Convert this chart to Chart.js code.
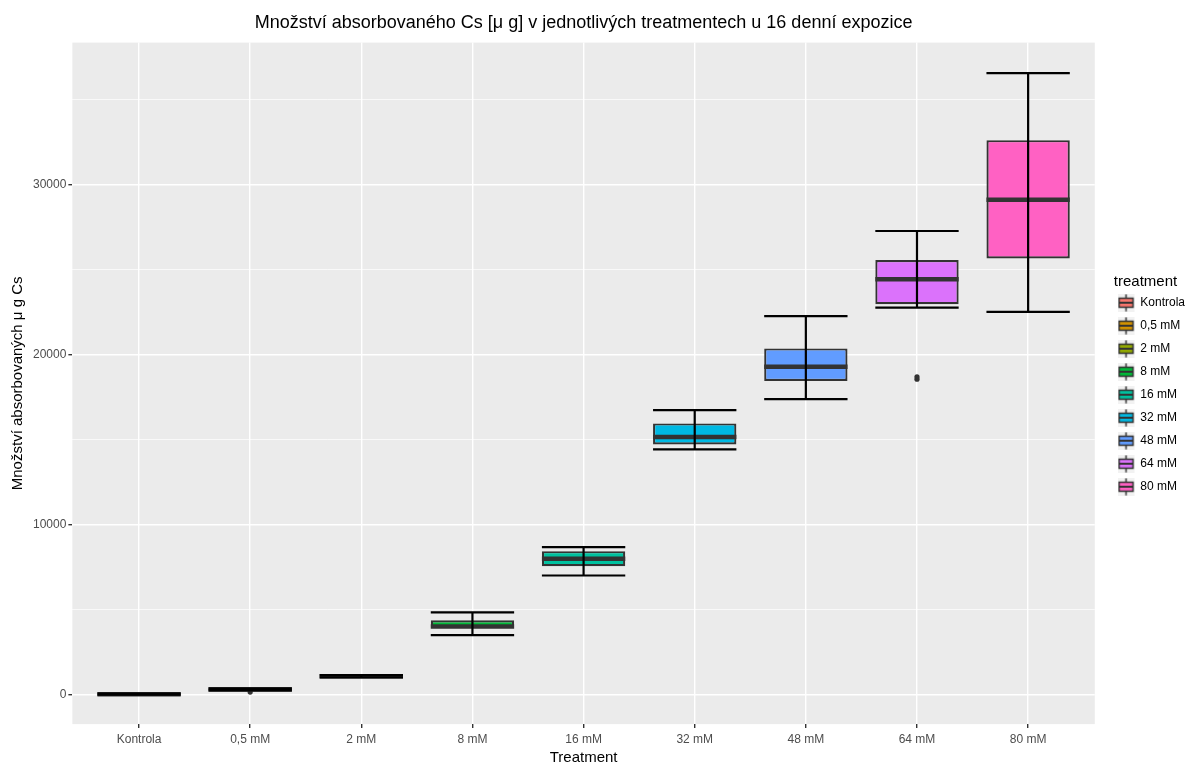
<!DOCTYPE html>
<html>
<head>
<meta charset="utf-8">
<script src="https://cdn.jsdelivr.net/npm/chart.js@4"></script>
<style>
  body { margin: 0; background: #fff; }
  #wrap { width: 1191px; height: 763px; }
</style>
</head>
<body>
<div id="wrap"><canvas id="myChart"></canvas></div>
<script>
const treatments = ['Kontrola', '0,5 mM', '2 mM', '8 mM', '16 mM', '32 mM', '48 mM', '64 mM', '80 mM'];
const whiskerLow  = [0,  240, 1010, 3500, 7000, 14410, 17370, 22740, 22490];
const boxLow      = [10, 270, 1040, 3950, 7550, 14700, 18430, 22940, 25630];
const medians     = [20, 300, 1080, 4000, 7980, 15140, 19270, 24410, 29080];
const boxHigh     = [40, 330, 1120, 4370, 8430, 15940, 20350, 25545, 32590];
const whiskerHigh = [60, 360, 1150, 4835, 8670, 16720, 22250, 27250, 36530];
// outliers: category number (1-based) and value
const outlierGroup  = [2, 8, 8];
const outlierValues = [150, 18540, 18680];
const yTicks = [0, 5000, 10000, 15000, 20000, 25000, 30000, 35000];
const colours = ['#F8766D', '#D39200', '#93AA00', '#00BA38', '#00C19F', '#00B9E3', '#619CFF', '#DB72FB', '#FF61C3'];

Chart.defaults.font.family = "'Liberation Sans', Arial, sans-serif";

// little boxplot glyphs for the legend (icon on the left of a wider canvas)
function keyIcon(col) {
  const c = document.createElement('canvas');
  c.width = 24; c.height = 18;
  const g = c.getContext('2d');
  g.fillStyle = '#F2F2F2';
  g.fillRect(0, 0, 17, 18);
  g.strokeStyle = '#333333';
  g.lineWidth = 1.5;
  g.beginPath();
  g.moveTo(8.5, 0.5); g.lineTo(8.5, 4.5);
  g.moveTo(8.5, 13.5); g.lineTo(8.5, 17.5);
  g.stroke();
  g.fillStyle = col;
  g.fillRect(1.5, 4.5, 14, 9);
  g.strokeRect(1.5, 4.5, 14, 9);
  g.lineWidth = 2;
  g.beginPath();
  g.moveTo(1.5, 9); g.lineTo(15.5, 9);
  g.stroke();
  return c;
}
const icons = colours.map(keyIcon);

const boxParts = {
  id: 'boxParts',
  beforeDraw(chart) {
    const a = chart.chartArea, ctx = chart.ctx;
    ctx.save();
    ctx.fillStyle = '#EBEBEB';
    ctx.fillRect(a.left, a.top, a.right - a.left, a.bottom - a.top);
    ctx.restore();
  },
  afterDatasetsDraw(chart) {
    const ctx = chart.ctx, xs = chart.scales.x, ys = chart.scales.y;
    const bars = chart.getDatasetMeta(0).data;
    ctx.save();
    treatments.forEach((t, i) => {
      const cx = xs.getPixelForValue(i + 1);
      const half = bars[i].width / 2;
      // median
      ctx.strokeStyle = '#333333';
      ctx.lineWidth = 4.5;
      ctx.beginPath();
      ctx.moveTo(cx - half, ys.getPixelForValue(medians[i]));
      ctx.lineTo(cx + half, ys.getPixelForValue(medians[i]));
      ctx.stroke();
      // error bar whiskers
      ctx.strokeStyle = '#000000';
      ctx.lineWidth = 2.2;
      const lo = ys.getPixelForValue(whiskerLow[i]);
      const hi = ys.getPixelForValue(whiskerHigh[i]);
      ctx.beginPath();
      ctx.moveTo(cx - half, lo); ctx.lineTo(cx + half, lo);
      ctx.moveTo(cx - half, hi); ctx.lineTo(cx + half, hi);
      ctx.moveTo(cx, lo); ctx.lineTo(cx, hi);
      ctx.stroke();
    });
    ctx.restore();
  }
};

const ctx = document.getElementById('myChart');

new Chart(ctx, {
  type: 'bar',
  data: {
    datasets: [{
      label: 'treatment',
      data: treatments.map((t, i) => ({ x: i + 1, y: [boxLow[i], boxHigh[i]] })),
      backgroundColor: colours,
      borderColor: '#333333',
      borderWidth: 2.2,
      borderSkipped: false,
      barPercentage: 0.75,
      categoryPercentage: 1
    }, {
      type: 'scatter',
      label: 'outliers',
      data: outlierGroup.map((g, k) => ({ x: g, y: outlierValues[k] })),
      pointRadius: 2.6,
      pointBackgroundColor: '#333333',
      pointBorderWidth: 0
    }]
  },
  options: {
    responsive: true,
    maintainAspectRatio: false,
    animation: false,
    layout: { padding: { left: 9, right: -4, bottom: -2.5, top: 0 } },
    plugins: {
      title: {
        display: true,
        text: 'Množství absorbovaného Cs [μ g] v jednotlivých treatmentech u 16 denní expozice',
        color: '#000',
        font: { size: 18, weight: 'normal' },
        fullSize: false,
        padding: { top: 12, bottom: 9 }
      },
      legend: {
        position: 'right',
        title: { display: true, text: 'treatment', position: 'start', color: '#000', font: { size: 15 }, padding: { top: 13, bottom: -7 } },
        labels: {
          usePointStyle: true,
          pointStyleWidth: 9.5,
          color: '#000',
          font: { size: 12 },
          padding: 11,
          generateLabels: () => treatments.map((t, i) => ({
            text: t, pointStyle: icons[i], fillStyle: colours[i],
            strokeStyle: '#333333', lineWidth: 0, hidden: false, datasetIndex: 0
          }))
        },
        onClick: () => {}
      },
      tooltip: { enabled: false }
    },
    scales: {
      x: {
        type: 'linear',
        offset: false,
        min: 0.4,
        max: 9.6,
        afterBuildTicks: s => { s.ticks = treatments.map((t, i) => ({ value: i + 1 })); },
        ticks: {
          callback: v => treatments[Math.round(v) - 1],
          color: '#4D4D4D',
          font: { size: 12 },
          padding: 4.5,
          autoSkip: false,
          maxRotation: 0
        },
        grid: { offset: false, color: '#FFFFFF', lineWidth: 1.4, tickColor: '#333333', tickLength: 4 },
        border: { display: false },
        title: { display: true, text: 'Treatment', color: '#000', font: { size: 15, lineHeight: 1 }, padding: { top: -1, bottom: 0 } }
      },
      y: {
        min: -1735,
        max: 38324,
        afterBuildTicks: s => { s.ticks = yTicks.map(v => ({ value: v })); },
        ticks: {
          callback: v => (v % 10000 === 0 ? String(v) : ''),
          color: '#4D4D4D',
          font: { size: 12 },
          padding: 2
        },
        grid: {
          color: '#FFFFFF',
          lineWidth: c => (c.tick && c.tick.value % 10000 === 0 ? 1.4 : 0.7),
          tickColor: c => (c.tick && c.tick.value % 10000 === 0 ? '#333333' : 'rgba(0,0,0,0)'),
          tickLength: 4
        },
        border: { display: false },
        title: { display: true, text: 'Množství absorbovaných μ g Cs', color: '#000', font: { size: 15 }, padding: { top: 0, bottom: 4 } }
      },
      gap: {
        position: 'right',
        display: true,
        afterFit: s => { s.width = 19; },
        ticks: { display: false },
        grid: { display: false },
        border: { display: false }
      }
    }
  },
  plugins: [boxParts]
});
</script>
</body>
</html>
